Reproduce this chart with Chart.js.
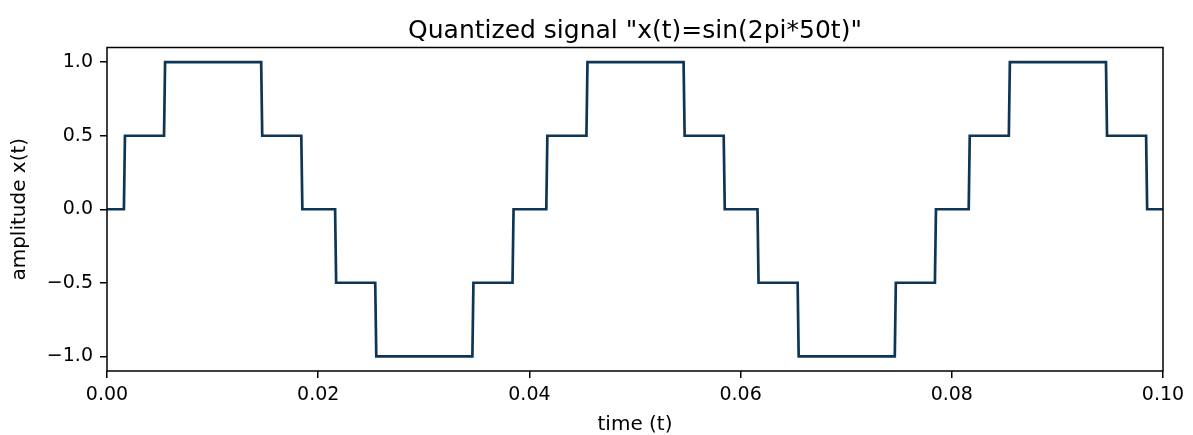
<!DOCTYPE html>
<html>
<head>
<meta charset="utf-8">
<script src="https://cdn.jsdelivr.net/npm/chart.js@4.4.1/dist/chart.umd.min.js"></script>
<style>
  html, body { margin: 0; padding: 0; background: #fff; }
  #wrap { width: 1193px; height: 435px; }
</style>
</head>
<body>
<div id="wrap"><canvas id="chart" width="1193" height="435"></canvas></div>
<script>
// times (s) where the quantized level jumps
const edgeTimes = [0.0016, 0.0054, 0.0146, 0.0184, 0.0216, 0.0254, 0.0346, 0.0384,
  0.0416, 0.0454, 0.0546, 0.0584, 0.0616, 0.0654, 0.0746, 0.0784,
  0.0816, 0.0854, 0.0946, 0.0984];
// level held between consecutive edges
const levels = [0, 0.5, 1, 0.5, 0, -0.5, -1, -0.5, 0, 0.5, 1, 0.5, 0, -0.5, -1, -0.5, 0, 0.5, 1, 0.5, 0];
const xTicks = [0, 0.02, 0.04, 0.06, 0.08, 0.10];
const yTicks = [-1.0, -0.5, 0.0, 0.5, 1.0];
const tStart = 0, tEnd = 0.10;

const FONT = "'DejaVu Sans', sans-serif";
const RISE = 0.0001; // small ramp width of each jump

// corner points of the step signal
const points = [{ x: tStart, y: levels[0] }];
edgeTimes.forEach((t, i) => {
  points.push({ x: t, y: levels[i] });
  points.push({ x: t + RISE, y: levels[i + 1] });
});
points.push({ x: tEnd, y: levels[levels.length - 1] });

const frame = {
  id: 'frame',
  afterDatasetsDraw(chart) {
    const { ctx, chartArea: a } = chart;
    ctx.save();
    ctx.strokeStyle = '#000';
    ctx.lineWidth = 1.5;
    ctx.strokeRect(a.left, a.top, a.right - a.left, a.bottom - a.top);
    ctx.restore();
  }
};

const fmtY = v => (v < 0 ? '\u2212' : '') + Math.abs(v).toFixed(1);

new Chart(document.getElementById('chart'), {
  type: 'line',
  data: {
    datasets: [{
      data: points,
      borderColor: '#0d3656',
      borderWidth: 2.7,
      pointRadius: 0,
      fill: false,
      tension: 0
    }]
  },
  options: {
    responsive: false,
    animation: false,
    layout: { padding: { left: 0, right: 30, top: 0, bottom: 0 } },
    plugins: {
      legend: { display: false },
      tooltip: { enabled: false },
      title: {
        display: true,
        fullSize: false,
        text: 'Quantized signal "x(t)=sin(2pi*50t)"',
        color: '#000',
        font: { family: FONT, size: 25, weight: 'normal' },
        padding: { top: 16, bottom: 1.5 }
      }
    },
    scales: {
      x: {
        type: 'linear',
        min: tStart,
        max: tEnd,
        afterBuildTicks: s => { s.ticks = xTicks.map(v => ({ value: v })); },
        afterFit: s => { s.height = 64; },
        ticks: {
          color: '#000',
          font: { family: FONT, size: 19 },
          padding: 6,
          maxRotation: 0,
          callback: v => v.toFixed(2)
        },
        grid: { drawOnChartArea: false, drawTicks: true, tickLength: 7, color: '#000', lineWidth: 1.5 },
        border: { display: false },
        title: {
          display: true,
          text: 'time (t)',
          color: '#000',
          font: { family: FONT, size: 20, lineHeight: 1 },
          padding: { top: 0, bottom: 0 }
        }
      },
      y: {
        type: 'linear',
        min: -1.1,
        max: 1.1,
        afterBuildTicks: s => { s.ticks = yTicks.map(v => ({ value: v })); },
        afterFit: s => { s.width = 107; },
        ticks: {
          color: '#000',
          font: { family: FONT, size: 19 },
          padding: 7,
          callback: v => fmtY(v)
        },
        grid: { drawOnChartArea: false, drawTicks: true, tickLength: 7, color: '#000', lineWidth: 1.5 },
        border: { display: false },
        title: {
          display: true,
          text: 'amplitude x(t)',
          color: '#000',
          font: { family: FONT, size: 20 },
          padding: { top: 8, bottom: 0 }
        }
      }
    }
  },
  plugins: [frame]
});
</script>
</body>
</html>
